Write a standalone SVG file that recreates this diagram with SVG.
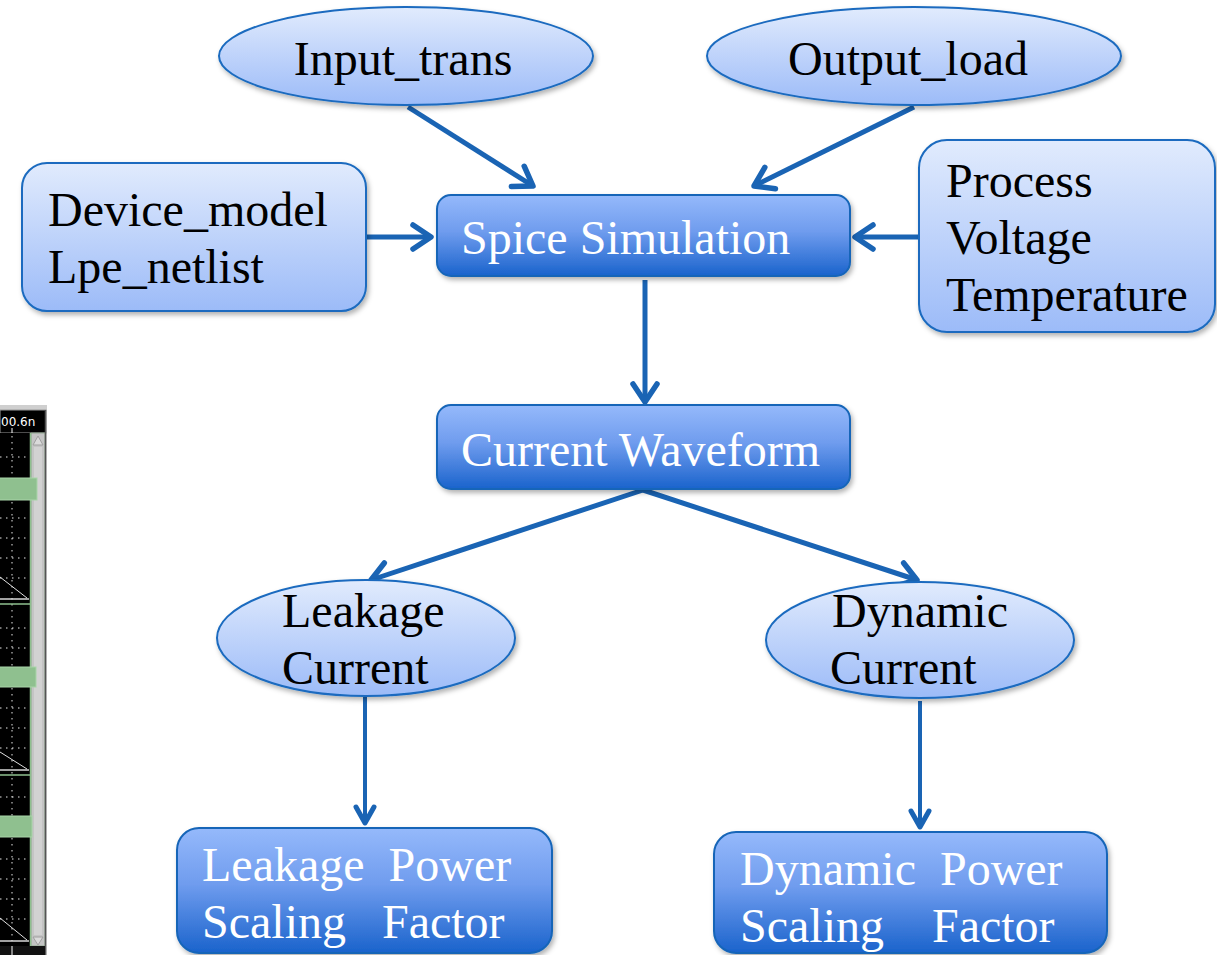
<svg xmlns="http://www.w3.org/2000/svg" width="1217" height="955" viewBox="0 0 1217 955">
  <defs>
    <linearGradient id="gLight" x1="0" y1="0" x2="0" y2="1">
      <stop offset="0" stop-color="#e1ebfd"/>
      <stop offset="1" stop-color="#9cbbf8"/>
    </linearGradient>
    <linearGradient id="gDark" x1="0" y1="0" x2="0" y2="1">
      <stop offset="0" stop-color="#95b9fb"/>
      <stop offset="0.45" stop-color="#6f9cee"/>
      <stop offset="1" stop-color="#1a63cc"/>
    </linearGradient>
    <filter id="shadow" x="-10%" y="-10%" width="125%" height="130%">
      <feDropShadow dx="2" dy="3" stdDeviation="2.5" flood-color="#000" flood-opacity="0.3"/>
    </filter>
    <marker id="arr" markerUnits="userSpaceOnUse" markerWidth="40" markerHeight="40" viewBox="-30 -20 40 40" refX="0" refY="0" orient="auto" overflow="visible">
      <path d="M-18,-12 L0,0 L-18,12" fill="none" stroke="#1a64b4" stroke-width="5.5" stroke-linecap="round" stroke-linejoin="round"/>
    </marker>
    <marker id="arrS" markerUnits="userSpaceOnUse" markerWidth="40" markerHeight="40" viewBox="-30 -20 40 40" refX="0" refY="0" orient="auto" overflow="visible">
      <path d="M-16,-9 L0,0 L-16,9" fill="none" stroke="#1a64b4" stroke-width="5" stroke-linecap="round" stroke-linejoin="round"/>
    </marker>
  </defs>
  <style>
    .light { fill: url(#gLight); stroke: #1a6bbf; stroke-width: 2; filter: url(#shadow); }
    .dark { fill: url(#gDark); stroke: #1565b8; stroke-width: 2; filter: url(#shadow); }
    .t { font-family: "Liberation Serif", "Times New Roman", serif; font-size: 48px; fill: #000; }
    .w { font-family: "Liberation Serif", "Times New Roman", serif; font-size: 48px; fill: #fff; }
    .conn { fill: none; stroke: #1a64b4; stroke-width: 5; marker-end: url(#arr); }
    .connS { fill: none; stroke: #1a64b4; stroke-width: 4; marker-end: url(#arrS); }
    .dot { stroke: #e8e8e8; stroke-width: 1; stroke-dasharray: 1.5 4.5; fill: none; }
    .bar { fill: #8fc08f; stroke: #a8d4a8; stroke-width: 1; }
  </style>

  <!-- waveform viewer strip on the left edge -->
  <g id="waveform-strip">
    <rect x="0" y="405" width="47" height="550" fill="#cfcfcf"/>
    <rect x="0" y="410" width="46" height="23" fill="#000" stroke="#9a9a9a" stroke-width="1"/>
    <text x="1" y="426" font-family="DejaVu Sans, sans-serif" font-size="12" fill="#fff">00.6n</text>
    <line x1="12" y1="428" x2="12" y2="433" stroke="#fff" stroke-width="1"/>
    <rect x="0" y="433" width="31" height="513" fill="#000"/>
    <!-- scrollbar -->
    <rect x="31" y="433" width="14" height="513" fill="#c4c4c4" stroke="#8fa88f" stroke-width="1"/>
    <rect x="34" y="447" width="8" height="488" fill="#d2d2d2"/>
    <path d="M33,445 L38,436 L43,445 Z" fill="#dadada" stroke="#a0a0a0" stroke-width="1"/>
    <path d="M33,937 L38,945 L43,937 Z" fill="#dadada" stroke="#a0a0a0" stroke-width="1"/>
    <line x1="45.5" y1="410" x2="45.5" y2="955" stroke="#555" stroke-width="1.5"/>
    <rect x="0" y="946" width="45" height="9" fill="#111"/>
    <line x1="12" y1="946" x2="12" y2="955" stroke="#fff" stroke-width="1"/>
    <!-- grid -->
    <line class="dot" x1="12" y1="436" x2="12" y2="941"/>
    <g class="dot">
      <line x1="0" y1="457" x2="30" y2="457"/>
      <line x1="0" y1="518" x2="30" y2="518"/>
      <line x1="0" y1="538" x2="30" y2="538"/>
      <line x1="0" y1="558" x2="30" y2="558"/>
      <line x1="0" y1="578" x2="30" y2="578"/>
      <line x1="0" y1="628" x2="30" y2="628"/>
      <line x1="0" y1="648" x2="30" y2="648"/>
      <line x1="0" y1="708" x2="30" y2="708"/>
      <line x1="0" y1="728" x2="30" y2="728"/>
      <line x1="0" y1="748" x2="30" y2="748"/>
      <line x1="0" y1="797" x2="30" y2="797"/>
      <line x1="0" y1="859" x2="30" y2="859"/>
      <line x1="0" y1="879" x2="30" y2="879"/>
      <line x1="0" y1="899" x2="30" y2="899"/>
      <line x1="0" y1="919" x2="30" y2="919"/>
    </g>
    <!-- panel borders -->
    <line x1="30.5" y1="433" x2="30.5" y2="946" stroke="#8fc08f" stroke-width="1.5"/>
    <g stroke="#d8d8d8" stroke-width="1.5">
      <line x1="0" y1="599" x2="29" y2="599"/>
      <line x1="0" y1="770" x2="29" y2="770"/>
      <line x1="0" y1="941" x2="29" y2="941"/>
    </g>
    <g stroke="#8fc08f" stroke-width="1.5">
      <line x1="0" y1="604" x2="30" y2="604"/>
      <line x1="0" y1="775" x2="30" y2="775"/>
    </g>
    <!-- traces -->
    <g stroke="#e0e0e0" stroke-width="1">
      <line x1="0" y1="577" x2="27" y2="598"/>
      <line x1="0" y1="752" x2="27" y2="769"/>
      <line x1="0" y1="918" x2="27" y2="940"/>
    </g>
    <rect class="bar" x="-1" y="478" width="38" height="22"/>
    <rect class="bar" x="-1" y="667" width="37" height="20"/>
    <rect class="bar" x="-1" y="816" width="33" height="21"/>
  </g>

  <!-- connectors -->
  <g id="connectors">
    <path class="conn" d="M408,107 L533,186"/>
    <path class="conn" d="M914,107 L754,186"/>
    <path class="conn" d="M366,237 L431,237"/>
    <path class="conn" d="M919,237 L855,237"/>
    <path class="conn" d="M645,280 L645,402"/>
    <path class="conn" d="M643,490 L371,580"/>
    <path class="conn" d="M643,490 L917,580"/>
    <path class="connS" d="M365,697 L365,823"/>
    <path class="connS" d="M920,701 L920,827"/>
  </g>

  <!-- nodes -->
  <g id="input-trans">
    <ellipse class="light" cx="406" cy="56" rx="187" ry="49"/>
    <text class="t" x="403" y="75" text-anchor="middle">Input_trans</text>
  </g>
  <g id="output-load">
    <ellipse class="light" cx="914" cy="56" rx="207" ry="49"/>
    <text class="t" x="908" y="75" text-anchor="middle">Output_load</text>
  </g>
  <g id="device-model">
    <rect class="light" x="22" y="163" width="344" height="148" rx="25"/>
    <text class="t" x="48" y="226">Device_model</text>
    <text class="t" x="48" y="283">Lpe_netlist</text>
  </g>
  <g id="pvt">
    <rect class="light" x="919" y="140" width="296" height="192" rx="28"/>
    <text class="t" x="946" y="197">Process</text>
    <text class="t" x="946" y="254">Voltage</text>
    <text class="t" x="946" y="311">Temperature</text>
  </g>
  <g id="spice-simulation">
    <rect class="dark" x="437" y="195" width="413" height="81" rx="14"/>
    <text class="w" x="461" y="254">Spice Simulation</text>
  </g>
  <g id="current-waveform">
    <rect class="dark" x="437" y="405" width="413" height="84" rx="14"/>
    <text class="w" x="461" y="466">Current Waveform</text>
  </g>
  <g id="leakage-current">
    <ellipse class="light" cx="366" cy="638" rx="149" ry="58"/>
    <text class="t" x="282" y="627">Leakage</text>
    <text class="t" x="282" y="684">Current</text>
  </g>
  <g id="dynamic-current">
    <ellipse class="light" cx="920" cy="640" rx="154" ry="58"/>
    <text class="t" x="832" y="627">Dynamic</text>
    <text class="t" x="830" y="684">Current</text>
  </g>
  <g id="leakage-power">
    <rect class="dark" x="177" y="828" width="375" height="125" rx="22"/>
    <text class="w" x="202" y="881" xml:space="preserve">Leakage  Power</text>
    <text class="w" x="202" y="938" xml:space="preserve">Scaling   Factor</text>
  </g>
  <g id="dynamic-power">
    <rect class="dark" x="714" y="832" width="393" height="121" rx="22"/>
    <text class="w" x="740" y="885" xml:space="preserve">Dynamic  Power</text>
    <text class="w" x="740" y="942" xml:space="preserve">Scaling    Factor</text>
  </g>
</svg>
